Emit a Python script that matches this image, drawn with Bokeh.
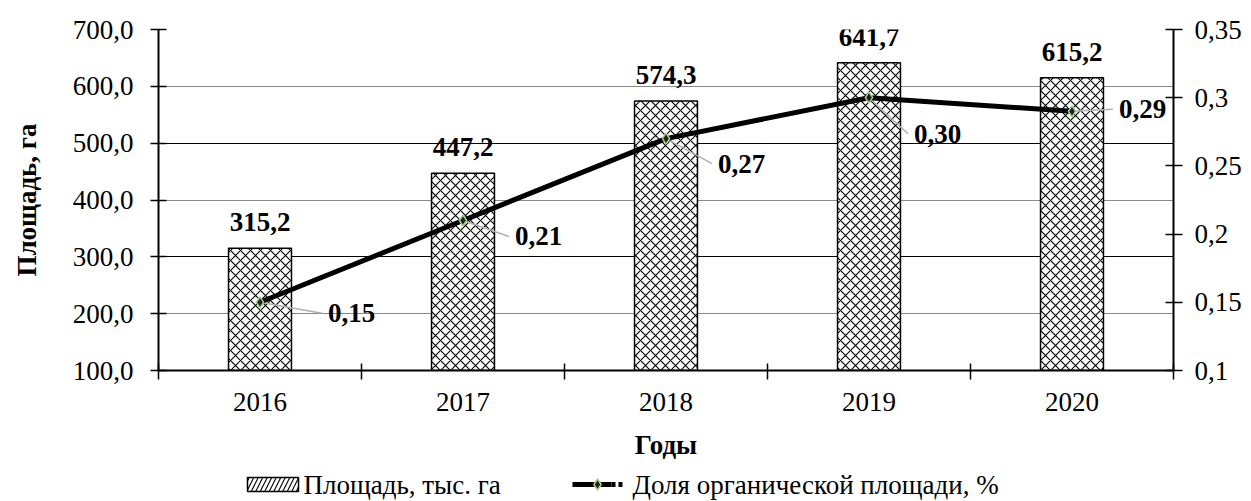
from bokeh.plotting import figure
from bokeh.layouts import column
from bokeh.models import (Range1d, LinearAxis, FixedTicker, CustomJSTickFormatter,
                          ColumnDataSource, Grid)
from bokeh.core.properties import value
from bokeh.embed import file_html
from bokeh.resources import INLINE

# ---- data ----
years = ["2016", "2017", "2018", "2019", "2020"]
area = [315.2, 447.2, 574.3, 641.7, 615.2]          # тыс. га
share = [0.15, 0.21, 0.27, 0.30, 0.29]             # %
series_names = ["Площадь, тыс. га", "Доля органической площади, %"]

left_ticks = [100, 200, 300, 400, 500, 600, 700]
right_ticks = [0.1, 0.15, 0.2, 0.25, 0.3, 0.35]

# ---- style / layout ----
FONT = "Liberation Serif"
FS = "27px"
FW, FH = 1015, 341
TOP, LEFT, RIGHT, BOTTOM = 29, 158, 76, 95
LEG_H = 501 - (TOP + FH + BOTTOM)
L0, L1 = 100, 700
R0, R1 = 0.1, 0.35
px_x = 5.0 / FW
px_l = (L1 - L0) / FH
px_r = (R1 - R0) / FH

# label offsets in screen pixels (right, down)
lbl_dx = [68, 52, 52, 45, 47]
lbl_dy = [11, 16, 25, 36, -2]

xs = list(range(1, len(years) + 1))
area_txt = [f"{v:.1f}".replace(".", ",") for v in area]
share_txt = [f"{v:.2f}".replace(".", ",") for v in share]

src = ColumnDataSource(dict(
    x=xs, area=area, share=share, area_txt=area_txt, share_txt=share_txt,
    area_lbl_y=[a + 26 * px_l for a in area],
    sx_lbl=[x + dx * px_x for x, dx in zip(xs, lbl_dx)],
    sy_lbl=[s - dy * px_r for s, dy in zip(share, lbl_dy)],
    sx_lead=[x + (dx - 6) * px_x for x, dx in zip(xs, lbl_dx)],
    sy_lead=[s - dy * px_r for s, dy in zip(share, lbl_dy)],
))

p = figure(frame_width=FW, frame_height=FH, output_backend="svg", toolbar_location=None,
           x_range=Range1d(0.5, len(years) + 0.5), y_range=Range1d(L0, L1),
           min_border_left=LEFT, min_border_right=RIGHT, min_border_top=TOP,
           min_border_bottom=BOTTOM)
p.extra_y_ranges = {"right": Range1d(R0, R1)}
p.outline_line_color = None
p.background_fill_color = "white"
p.border_fill_color = "white"
p.grid.visible = False

# grids
p.add_layout(Grid(dimension=1, ticker=FixedTicker(ticks=[300, 500, 700]),
                  grid_line_color="black", grid_line_width=1.2))
p.add_layout(Grid(dimension=1, ticker=FixedTicker(ticks=[200, 400, 600]),
                  grid_line_color="#8a8a8a", grid_line_width=1.2))

HATCH = dict(fill_color="white", line_color="black", line_width=1.5,
             hatch_pattern="x", hatch_color="black", hatch_scale=10, hatch_weight=1.1)

# bars
p.vbar(x="x", top="area", bottom=L0, width=0.31, source=src, **HATCH)

p.text(x="x", y="area_lbl_y", text="area_txt", source=src, text_align="center",
       text_baseline="middle", text_font=value(FONT), text_font_size=FS,
       text_font_style="bold", text_color="black")

# leaders
p.segment(x0="x", y0="share", x1="sx_lead", y1="sy_lead", source=src, y_range_name="right",
          line_color="#b0b0b0", line_width=1.5)

# line
MK = dict(marker="diamond", size=11, fill_color="#222222", line_color="#a8d08d", line_width=1.5)
p.line(x="x", y="share", source=src, y_range_name="right", line_color="black", line_width=5)
p.scatter(x="x", y="share", source=src, y_range_name="right", **MK)

p.text(x="sx_lbl", y="sy_lbl", text="share_txt", source=src, y_range_name="right",
       text_align="left", text_baseline="middle", text_font=value(FONT), text_font_size=FS,
       text_font_style="bold", text_color="black")

# axes
def style_axis(ax):
    ax.axis_line_color = "black"
    ax.axis_line_width = 2
    ax.major_tick_line_color = "black"
    ax.major_tick_line_width = 1.5
    ax.minor_tick_line_color = None
    ax.major_label_text_font = FONT
    ax.major_label_text_font_size = FS
    ax.major_label_text_color = "black"
    ax.axis_label_text_font = FONT
    ax.axis_label_text_font_size = FS
    ax.axis_label_text_font_style = "bold"
    ax.axis_label_text_color = "black"

ya = p.yaxis[0]
style_axis(ya)
ya.ticker = FixedTicker(ticks=left_ticks)
ya.formatter = CustomJSTickFormatter(code="return tick.toFixed(1).replace('.', ',');")
ya.major_tick_in = 8
ya.major_tick_out = 8
ya.major_label_standoff = 17
ya.axis_label = "Площадь, га"
ya.axis_label_standoff = 28

ra = LinearAxis(y_range_name="right")
style_axis(ra)
ra.ticker = FixedTicker(ticks=right_ticks)
ra.formatter = CustomJSTickFormatter(code="return String(Math.round(tick*100)/100).replace('.', ',');")
ra.major_tick_in = 8
ra.major_tick_out = 9
ra.major_label_standoff = 12
p.add_layout(ra, "right")

xa = p.xaxis[0]
style_axis(xa)
xa.ticker = FixedTicker(ticks=xs, minor_ticks=[x + 0.5 for x in [0] + xs])
xa.major_label_overrides = {x: y for x, y in zip(xs, years)}
xa.major_tick_line_color = None
xa.minor_tick_line_color = "black"
xa.minor_tick_line_width = 1.5
xa.minor_tick_in = 7
xa.minor_tick_out = 9
xa.major_tick_in = 0
xa.major_tick_out = 9
xa.major_label_standoff = 13
xa.axis_label = "Годы"
xa.axis_label_standoff = 16

# ---- legend strip: frame aligned with the main frame, x in page pixels ----
lg = figure(frame_width=FW, frame_height=LEG_H, output_backend="svg", toolbar_location=None,
            x_range=Range1d(LEFT, LEFT + FW), y_range=Range1d(0, LEG_H),
            min_border_left=LEFT, min_border_right=RIGHT, min_border_top=0, min_border_bottom=0,
            x_axis_type=None, y_axis_type=None)
lg.outline_line_color = None
lg.grid.visible = False
ym = LEG_H - 19
h1 = dict(HATCH)
h1["hatch_pattern"] = "/"
h1["hatch_scale"] = 9
lg.quad(left=[247], right=[298], bottom=[ym - 7], top=[ym + 7], **h1)
lg.segment(x0=[572], y0=[ym], x1=[611], y1=[ym], line_color="black", line_width=5)
lg.segment(x0=[611], y0=[ym], x1=[622], y1=[ym], line_color="black", line_width=5,
           line_dash="4 3")
lg.scatter(x=[597], y=[ym], **MK)
lg.text(x=[303, 632], y=[ym, ym], text=series_names, text_align="left",
        text_baseline="middle", text_font=value(FONT), text_font_size=FS, text_color="black")

layout = column(p, lg, spacing=0)
open("out.html", "w").write(file_html(layout, INLINE))
